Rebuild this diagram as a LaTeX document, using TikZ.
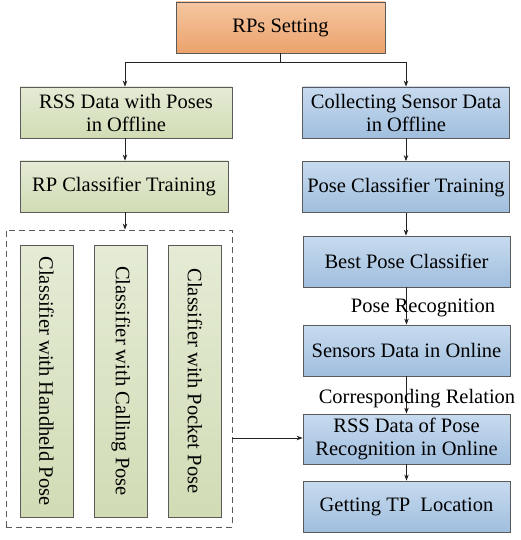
\documentclass[tikz,border=0pt]{standalone}
\usepackage{fontspec}
\setmainfont{Liberation Serif}
\usetikzlibrary{arrows.meta}
\definecolor{orT}{HTML}{F4C6A0}
\definecolor{orB}{HTML}{ECA26C}
\definecolor{grT}{HTML}{E5EBD5}
\definecolor{grB}{HTML}{D1DCB5}
\definecolor{blT}{HTML}{C8DBEF}
\definecolor{blB}{HTML}{A0BEDE}
\definecolor{edge}{HTML}{5A5A5A}
\definecolor{ln}{HTML}{222222}
\tikzset{
  box/.style={draw=edge, line width=0.8pt, align=center, inner sep=1pt,
    font=\fontsize{20.5}{23}\selectfont, text=black},
  orbox/.style={box, top color=orT, bottom color=orB, minimum width=209pt, minimum height=51pt},
  grbox/.style={box, top color=grT, bottom color=grB, minimum height=51pt},
  blbox/.style={box, top color=blT, bottom color=blB, minimum width=207pt, minimum height=51pt},
  vbox/.style={box, rotate=-90, top color=grT, bottom color=grB, minimum width=272pt, minimum height=53pt},
  arr/.style={draw=ln, line width=0.8pt, -{Stealth[length=6pt,width=4.5pt]}},
  lbl/.style={font=\fontsize{20.5}{23}\selectfont, inner sep=0pt}
}
\begin{document}
\begin{tikzpicture}[x=1pt,y=-1pt]
\useasboundingbox (0,0) rectangle (520,540);
\node[orbox] (rps) at (280.5,27.5) {RPs Setting};
\node[grbox, minimum width=212pt] (l1) at (126,112.5) {RSS Data with Poses\\in Offline};
\node[blbox] (r1) at (406,112.5) {Collecting Sensor Data\\in Offline};
\node[grbox, minimum width=208pt] (l2) at (124,186.5) {RP Classifier Training};
\node[blbox] (r2) at (406,187) {Pose Classifier Training};
\node[draw=edge, dash pattern=on 6pt off 4pt, line width=0.8pt, minimum width=226pt, minimum height=297pt, inner sep=0pt] (grp) at (119,378.5) {};
\node[vbox] (v1) at (46.5,381) {Classifier with Handheld Pose};
\node[vbox] (v2) at (121,381) {Classifier with Calling Pose};
\node[vbox] (v3) at (195,381) {Classifier with Pocket Pose};
\node[blbox] (r3) at (406.5,261.5) {Best Pose Classifier};
\node[blbox] (r4) at (406.5,350.5) {Sensors Data in Online};
\node[blbox, minimum height=50pt] (r5) at (406.5,439) {RSS Data of Pose\\Recognition in Online};
\node[blbox] (r6) at (406.5,506.5) {Getting TP\ \ Location};
\coordinate (br) at (280.5,62);
\draw[draw=ln, line width=0.8pt] (rps.south) -- (br);
\draw[arr] (br) -| (l1.north -| 125,0);
\draw[arr] (br) -| (r1.north);
\draw[arr] (l1.south -| 125,0) -- (l2.north -| 125,0);
\draw[arr] (r1.south) -- (r2.north);
\draw[arr] (l2.south -| 125,0) -- (grp.north -| 125,0);
\draw[arr] (r2.south) -- (r3.north -| r2.south);
\draw[arr] (r3.south) -- (r4.north);
\draw[arr] (r4.south) -- (r5.north);
\draw[arr] (r5.south) -- (r6.north);
\draw[arr] (grp.east |- 0,438) -- (r5.west |- 0,438);
\node[lbl] (t1) at (423,308) {Pose Recognition};
\node[lbl] (t2) at (417,399) {Corresponding Relation};
\end{tikzpicture}
\end{document}
